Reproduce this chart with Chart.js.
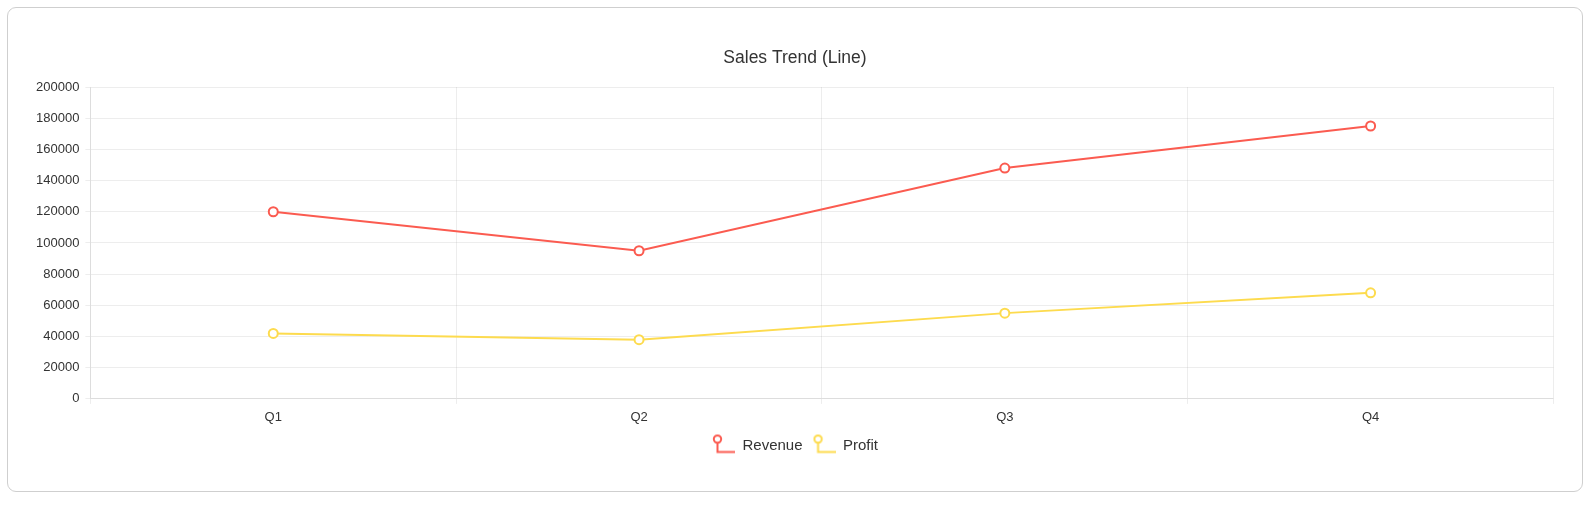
<!DOCTYPE html>
<html>
<head>
<meta charset="utf-8">
<script src="https://cdn.jsdelivr.net/npm/chart.js@4/dist/chart.umd.min.js"></script>
<style>
  html, body { margin: 0; padding: 0; background: #fff; }
  .card {
    position: absolute; left: 7px; top: 7px; width: 1576px; height: 485px;
    box-sizing: border-box; border: 1px solid #cfcfcf; border-radius: 9px; background: #fff;
  }
  .chart-wrapper { position: absolute; left: 30px; top: 35px; width: 1530px; height: 428px; }
</style>
</head>
<body>
<div class="card"></div>
<div class="chart-wrapper"><canvas id="salesChart"></canvas></div>
<script>
const quarters = ['Q1', 'Q2', 'Q3', 'Q4'];
const revenue = [120000, 95000, 148000, 175000];
const profit = [42000, 38000, 55000, 68000];
const seriesNames = ['Revenue', 'Profit'];
const seriesColors = ['#fb5b50', '#fddb4e'];

const FONT = '"Liberation Sans", Arial, Helvetica, sans-serif';

// legend icon: small circle with an L-shaped tail
function legendIcon(color) {
  const c = document.createElement('canvas');
  c.width = 23;
  c.height = 24;
  const g = c.getContext('2d');
  g.strokeStyle = color;
  g.lineWidth = 2;
  g.beginPath();
  g.arc(5.5, 5.6, 3.7, 0, Math.PI * 2);
  g.stroke();
  g.beginPath();
  g.moveTo(5.5, 9.3);
  g.lineTo(5.5, 18.5);
  g.lineTo(23, 18.5);
  g.stroke();
  return c;
}

const ctx = document.getElementById('salesChart').getContext('2d');
new Chart(ctx, {
  type: 'line',
  data: {
    labels: quarters,
    datasets: [revenue, profit].map((values, i) => ({
      label: seriesNames[i],
      data: values,
      borderColor: seriesColors[i],
      backgroundColor: '#fff',
      borderWidth: 2,
      pointRadius: 4.5,
      pointBorderWidth: 2,
      pointBackgroundColor: '#fff',
      pointBorderColor: seriesColors[i],
      tension: 0
    }))
  },
  options: {
    responsive: true,
    maintainAspectRatio: false,
    animation: false,
    plugins: {
      title: {
        display: true,
        text: 'Sales Trend (Line)',
        color: '#333',
        font: { family: FONT, size: 17.5, weight: 'normal' },
        padding: { top: 13, bottom: 18 }
      },
      legend: {
        position: 'bottom',
        labels: {
          color: '#333',
          font: { family: FONT, size: 15 },
          usePointStyle: true,
          pointStyleWidth: 23,
          padding: 10,
          generateLabels(chart) {
            return chart.data.datasets.map((ds, i) => ({
              text: ds.label,
              fontColor: '#333',
              pointStyle: legendIcon(seriesColors[i]),
              strokeStyle: seriesColors[i],
              fillStyle: '#fff',
              lineWidth: 0,
              hidden: false,
              datasetIndex: i
            }));
          }
        }
      },
      tooltip: { enabled: false }
    },
    scales: {
      x: {
        offset: true,
        grid: { offset: true, color: 'rgba(0,0,0,0.07)', tickLength: 5 },
        border: { color: 'rgba(0,0,0,0.07)' },
        ticks: { color: '#333', padding: 6, font: { family: FONT, size: 13 } },
        afterFit(scale) { scale.height -= 3.5; }
      },
      y: {
        min: 0,
        max: 200000,
        grid: { color: 'rgba(0,0,0,0.07)', tickLength: 5 },
        border: { color: 'rgba(0,0,0,0.07)' },
        ticks: {
          stepSize: 20000,
          color: '#333',
          padding: 6,
          font: { family: FONT, size: 13 },
          callback: value => String(value)
        }
      }
    }
  }
});
</script>
</body>
</html>
